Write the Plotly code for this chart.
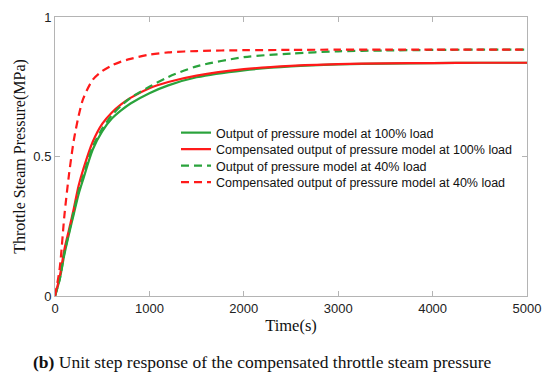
import plotly.graph_objects as go

# Time axis (s)
time_s = [0, 50, 100, 150, 200, 250, 300, 400, 500, 600, 700, 800, 1000, 1200,
          1500, 2000, 2500, 3000, 3500, 4000, 4500, 5000]

# Output of pressure model at 100% load
out_100 = [0, 0.06, 0.15, 0.225, 0.295, 0.365, 0.42, 0.525, 0.59, 0.635, 0.665, 0.69,
           0.727, 0.755, 0.784, 0.809, 0.823, 0.83, 0.833, 0.835, 0.836, 0.836]
# Compensated output of pressure model at 100% load
comp_100 = [0, 0.07, 0.168, 0.24, 0.315, 0.395, 0.455, 0.553, 0.617, 0.657, 0.687, 0.71,
            0.745, 0.767, 0.79, 0.813, 0.825, 0.831, 0.834, 0.835, 0.836, 0.836]
# Output of pressure model at 40% load
out_40 = [0, 0.06, 0.155, 0.23, 0.305, 0.375, 0.432, 0.535, 0.60, 0.647, 0.682, 0.71,
          0.75, 0.785, 0.823, 0.856, 0.869, 0.877, 0.88, 0.882, 0.883, 0.883]
# Compensated output of pressure model at 40% load
comp_40 = [0, 0.10, 0.29, 0.44, 0.56, 0.645, 0.708, 0.775, 0.806, 0.826, 0.84, 0.85,
           0.865, 0.873, 0.878, 0.881, 0.882, 0.883, 0.883, 0.883, 0.883, 0.883]

names = ["Output of pressure model at 100% load",
         "Compensated output of pressure model at 100% load",
         "Output of pressure model at 40% load",
         "Compensated output of pressure model at 40% load"]

x_ticks = [0, 1000, 2000, 3000, 4000, 5000]
y_ticks = [0, 0.5, 1]
y_tick_text = ["0", "0.5", "1"]

GREEN = "#2aa33c"
RED = "#ff1a1a"

# The page body has an 8px margin: figure is drawn at offset (8, 8)
OFF = 8
W, H = 550 - OFF, 387 - OFF
# plot area in page pixels
L, R, T, B = 55, 527, 17, 296
PW, PH = R - L, B - T

fig = go.Figure()
series = [(out_100, GREEN, "solid"), (comp_100, RED, "solid"),
          (out_40, GREEN, "8px,5px"), (comp_40, RED, "8px,5px")]
legend_ids = ["legend", "legend2", "legend3", "legend4"]
for (ys, col, dash), nm, lid in zip(series, names, legend_ids):
    fig.add_trace(go.Scatter(x=time_s, y=ys, mode="lines", name=nm, legend=lid,
                             line=dict(color=col, width=2.2, dash=dash, shape="spline", smoothing=0.8)))

axis_common = dict(showline=True, linecolor="#b4b4b4", linewidth=1, mirror="ticks",
                   ticks="inside", ticklen=5, tickcolor="#b4b4b4", showgrid=False,
                   zeroline=False, automargin=False,
                   tickfont=dict(family="Liberation Sans, Arial", size=13, color="#222"))

legend_font = dict(family="Liberation Sans, Arial", size=12.5, color="#111")
row_centers = [133, 149.5, 166, 182.5]
legend_x = (176 - L) / PW
legends = {}
for lid, py in zip(legend_ids, row_centers):
    legends[lid] = dict(x=legend_x, y=(B - py) / PH, xanchor="left", yanchor="middle",
                        bgcolor="rgba(0,0,0,0)", borderwidth=0, itemwidth=30,
                        font=legend_font)

fig.update_layout(
    width=W, height=H,
    margin=dict(l=L - OFF, r=550 - R, t=T - OFF, b=387 - B),
    paper_bgcolor="white", plot_bgcolor="white",
    showlegend=True,
    xaxis=dict(range=[0, 5000], tickvals=x_ticks,
               title=dict(text="Time(s)", standoff=4,
                          font=dict(family="Liberation Serif, Times New Roman", size=16.5, color="#111")),
               **axis_common),
    yaxis=dict(range=[0, 1], tickvals=y_ticks, ticktext=y_tick_text,
               title=dict(text="Throttle Steam Pressure(MPa)", standoff=3,
                          font=dict(family="Liberation Serif, Times New Roman", size=16, color="#111")),
               **axis_common),
    **legends,
)

fig.add_annotation(text="<b>(b)</b> Unit step response of the compensated throttle steam pressure",
                   xref="paper", yref="paper", x=(262 - L) / PW, y=-(362 - B) / PH,
                   xanchor="center", yanchor="middle", showarrow=False,
                   font=dict(family="Liberation Serif, Times New Roman", size=17.5, color="#111"))

fig.write_html("out.html")
